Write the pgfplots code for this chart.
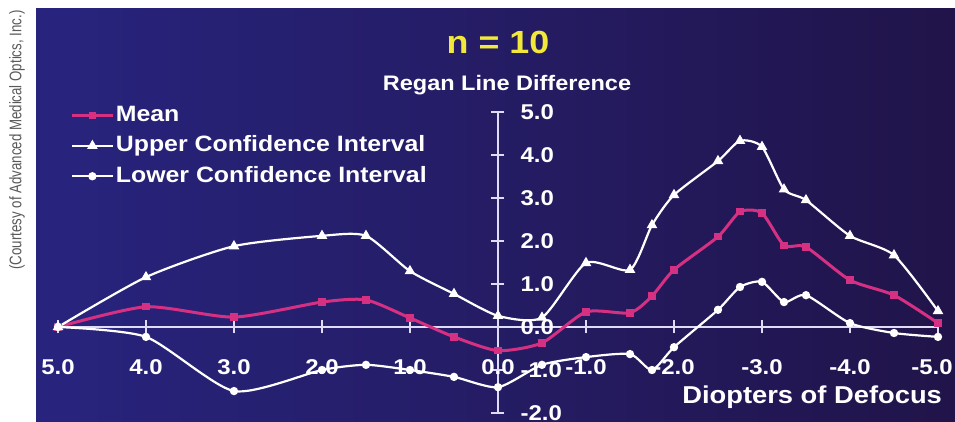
\documentclass[border=0pt]{standalone}
\usepackage{pgfplots}
\pgfplotsset{compat=1.18}
\usepackage{fontspec}
\setmainfont{Liberation Sans}
\newfontfamily\wf[FakeStretch=1.12]{Liberation Sans}
\definecolor{meancol}{RGB}{214,48,130}
\definecolor{panelL}{RGB}{40,36,126}
\definecolor{panelM}{RGB}{42,28,104}
\definecolor{panelR}{RGB}{33,20,74}
\definecolor{ttl}{RGB}{242,232,58}
\definecolor{axcol}{RGB}{225,220,245}
\begin{document}
\begin{tikzpicture}
\begin{scope}[x=0.5pt,y=0.5pt]
\fill[white] (0,0) rectangle (955,422);
\shade[left color=panelL, middle color=panelM, right color=panelR] (36,0) rectangle (955,413);
\node[rotate=90, text=black!65, font=\fontsize{8.4}{9}\selectfont] at (17,282) {\scalebox{0.79}[1]{(Courtesy of Advanced Medical Optics, Inc.)}};
\node[text=ttl, font=\wf\bfseries\fontsize{16}{18}\selectfont] at (498,380) {n = 10};
\node[text=white, font=\wf\bfseries\fontsize{10.5}{13}\selectfont] at (507,337) {Regan Line Difference};
\node[text=white, font=\wf\bfseries\fontsize{12.2}{14}\selectfont, anchor=east] at (949,25) {Diopters of Defocus};
\end{scope}
\begin{axis}[
  at={(29pt,4.5pt)}, anchor=south west,
  scale only axis, width=440pt, height=150.5pt,
  axis lines=middle,
  axis line style={axcol, line width=1pt, -},
  x dir=reverse,
  xmin=-5, xmax=5, ymin=-2, ymax=5,
  clip=false,
  xtick={-4,-3,-2,-1,0,1,2,3,4,5},
  xticklabels={{-4.0},{-3.0},{-2.0},{-1.0},{0.0},{1.0},{2.0},{3.0},{4.0},{5.0}},
  extra x ticks={-5},
  extra x tick labels={{-5.0}},
  extra x tick style={xticklabel style={xshift=-3pt}},
  ytick={-2,-1,0,1,2,3,4,5},
  yticklabels={{-2.0},{-1.0},{0.0},{1.0},{2.0},{3.0},{4.0},{5.0}},
  hide obscured x ticks=false,
  hide obscured y ticks=false,
  major tick length=6.5pt,
  tick align=center,
  tick style={axcol, line width=1pt},
  xticklabel style={anchor=center, yshift=-17pt, text=white, font=\wf\bfseries\fontsize{10.7}{12}\selectfont},
  yticklabel style={anchor=west, xshift=11pt, text=white, font=\wf\bfseries\fontsize{10.7}{12}\selectfont},
  legend style={draw=none, fill=none, text=white, font=\wf\bfseries\fontsize{11.1}{13}\selectfont,
    at={(0.0142,1.033)}, anchor=north west, inner sep=0pt, row sep=2.2pt,
    nodes={inner sep=1pt, text height=8.5pt, text depth=2.5pt}},
  legend cell align=left,
  legend image code/.code={\draw[#1, mark repeat=2, mark phase=2] plot coordinates {(0pt,0pt)(10pt,0pt)(20pt,0pt)};},
]
\addplot[meancol, line width=1.5pt, smooth, tension=0.4, mark=square*, mark size=1.1pt, mark options={fill=meancol, draw=meancol}] coordinates {
(5.0,0.0) (4.0,0.47) (3.0,0.23) (2.0,0.58) (1.5,0.63) (1.0,0.21) (0.5,-0.23) (0.0,-0.55) (-0.5,-0.37) (-1.0,0.35) (-1.5,0.33) (-1.75,0.72) (-2.0,1.33) (-2.5,2.1) (-2.75,2.68) (-3.0,2.65) (-3.25,1.9) (-3.5,1.86) (-4.0,1.09) (-4.5,0.74) (-5.0,0.09)
};
\addlegendentry{Mean}
\addplot[white, line width=1.1pt, smooth, tension=0.4, mark=triangle*, mark size=2pt, mark options={fill=white, draw=white}] coordinates {
(5.0,0.0) (4.0,1.16) (3.0,1.88) (2.0,2.12) (1.5,2.12) (1.0,1.30) (0.5,0.77) (0.0,0.26) (-0.5,0.22) (-1.0,1.49) (-1.5,1.33) (-1.75,2.37) (-2.0,3.07) (-2.5,3.86) (-2.75,4.33) (-3.0,4.19) (-3.25,3.2) (-3.5,2.95) (-4.0,2.12) (-4.5,1.67) (-5.0,0.37)
};
\addlegendentry{Upper Confidence Interval}
\addplot[white, line width=1.1pt, smooth, tension=0.4, mark=*, mark size=1.5pt, mark options={fill=white, draw=white}] coordinates {
(5.0,0.0) (4.0,-0.23) (3.0,-1.49) (2.0,-1.0) (1.5,-0.88) (1.0,-1.0) (0.5,-1.16) (0.0,-1.4) (-0.5,-0.88) (-1.0,-0.7) (-1.5,-0.63) (-1.75,-1.0) (-2.0,-0.47) (-2.5,0.4) (-2.75,0.93) (-3.0,1.05) (-3.25,0.58) (-3.5,0.74) (-4.0,0.09) (-4.5,-0.14) (-5.0,-0.23)
};
\addlegendentry{Lower Confidence Interval}
\end{axis}
\pgfresetboundingbox
\path[use as bounding box] (0pt,0pt) rectangle (477.5pt,211pt);
\end{tikzpicture}
\end{document}
